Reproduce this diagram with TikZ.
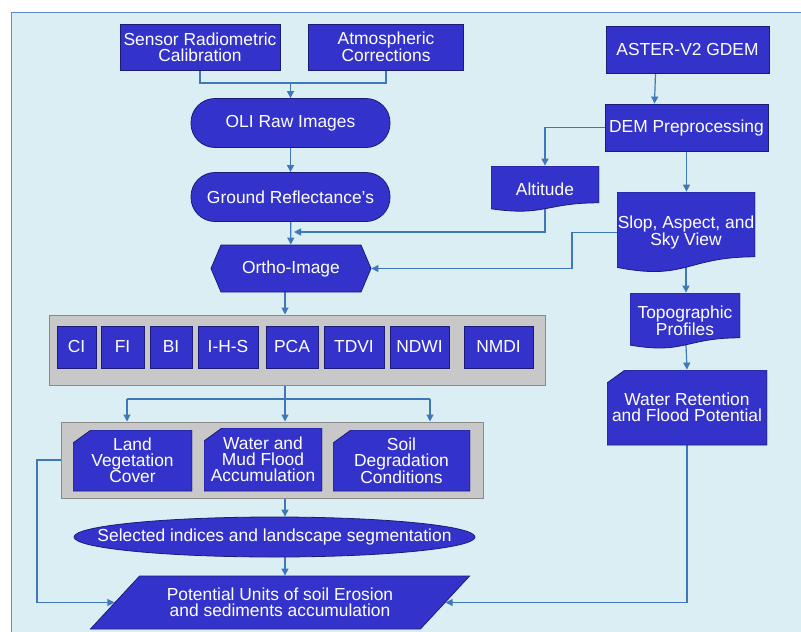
\documentclass[tikz,border=0pt]{standalone}
\usepackage{fontspec}
\setmainfont{Liberation Sans}
\usetikzlibrary{arrows.meta,calc,shapes.geometric,shapes.symbols}
\definecolor{panelblue}{HTML}{DAEEF3}
\definecolor{panelline}{HTML}{5B8BC6}
\definecolor{boxblue}{HTML}{3333CC}
\definecolor{boxline}{HTML}{1C1C78}
\definecolor{linkblue}{HTML}{3F78B8}
\definecolor{traygray}{HTML}{C8C8C8}
\definecolor{trayline}{HTML}{8A8A8A}
\pgfdeclarelayer{bg}
\pgfdeclarelayer{lines}
\pgfsetlayers{bg,lines,main}
\begin{document}
\begin{tikzpicture}[x=1pt,y=-1pt,
		font=\fontsize{17.4}{16}\selectfont,
		box/.style={rectangle,fill=boxblue,draw=boxline,line width=0.8pt,text=white,align=center,inner sep=0pt},
		pill/.style={box,rounded corners=24pt},
		card/.style={box,fill=none,draw=none,path picture={
			\filldraw[fill=boxblue,draw=boxline,line width=0.8pt] ([xshift=18pt]path picture bounding box.north west) -- (path picture bounding box.north east) -- (path picture bounding box.south east) -- (path picture bounding box.south west) -- ([yshift=-13pt]path picture bounding box.north west) -- cycle;}},
		hexa/.style={box,signal,signal to=west and east,signal pointer angle=134},
		oval/.style={box,ellipse},
		slant/.style={box,trapezium,trapezium left angle=36,trapezium right angle=144,trapezium stretches=true},
		doc/.style={box,fill=none,draw=none,path picture={
			\filldraw[fill=boxblue,draw=boxline,line width=0.8pt] (path picture bounding box.north west) -- (path picture bounding box.north east) -- ($(path picture bounding box.north east)!0.80!(path picture bounding box.south east)$) .. controls ($(path picture bounding box.north)!0.80!(path picture bounding box.south)$) and ($(path picture bounding box.north)!1.10!(path picture bounding box.south)$) .. ($(path picture bounding box.north west)!0.93!(path picture bounding box.south west)$) -- cycle;}},
		tray/.style={rectangle,fill=traygray,draw=trayline,line width=1pt},
		link/.style={draw=linkblue,line width=1.2pt},
		arr/.style={link,-{Triangle[length=7pt,width=7pt]}},
	]
	\useasboundingbox (0,0) rectangle (801,632);
	\begin{pgfonlayer}{bg}
		\fill[white] (0,0) rectangle (801,632);
		\fill[panelblue] (11,12) rectangle (801,632);
		\draw[panelline,line width=1pt] (11,632) -- (11,12) -- (801,12);
	\end{pgfonlayer}
	\node[box,minimum width=160pt,minimum height=46pt] (sens) at (200,47){Sensor Radiometric\\Calibration};
	\node[box,minimum width=155pt,minimum height=46pt] (atm) at (386,47){Atmospheric\\Corrections};
	\node[pill,minimum width=199pt,minimum height=49pt] (oli) at (290.5,123){OLI Raw Images};
	\node[pill,minimum width=199pt,minimum height=49pt] (gr) at (290.5,197){Ground Reflectance's};
	\node[hexa,minimum width=160pt,minimum height=47pt] (ortho) at (291,268.5){Ortho-Image};
	\node[box,minimum width=163pt,minimum height=47pt] (aster) at (687.5,49.5){ASTER-V2 GDEM};
	\node[box,minimum width=163pt,minimum height=47pt] (dem) at (686.5,127.5){DEM Preprocessing};
	\node[doc,minimum width=108pt,minimum height=46pt] (alt) at (545,189){Altitude};
	\node[doc,minimum width=138pt,minimum height=81pt] (slop) at (686,232.5){Slop, Aspect, and\\Sky View};
	\node[doc,minimum width=110pt,minimum height=56pt] (topo) at (685,321){Topographic\\Profiles};
	\node[card,minimum width=160pt,minimum height=75pt] (wr) at (687,407.5){Water Retention\\and Flood Potential};
	\node[tray,minimum width=496pt,minimum height=70pt] (idx) at (297,350){};
	\foreach \t/\x/\w [count=\i] in {CI/76.5/39,FI/122.5/43,BI/171/42,I-H-S/228/60,PCA/292/52,TDVI/354/60,NDWI/419.5/59,NMDI/498.5/69}{
		\node[box,minimum width=\w pt,minimum height=42pt] (ix\i) at (\x,347){\t};
	}
	\node[tray,minimum width=422pt,minimum height=76pt] (cat) at (272,460){};
	\node[card,minimum width=119pt,minimum height=61pt] (land) at (132.5,460.5){Land\\Vegetation\\Cover};
	\node[card,minimum width=118pt,minimum height=63pt] (water) at (263,459.5){Water and\\Mud Flood\\Accumulation};
	\node[card,minimum width=137pt,minimum height=61pt] (soil) at (401.5,460.5){Soil\\Degradation\\Conditions};
	\node[oval,minimum width=401pt,minimum height=40pt] (sel) at (274.5,537){\makebox[0pt]{Selected indices and landscape segmentation}};
	\node[slant,minimum width=380pt,minimum height=53pt] (pot) at (280,602.5){Potential Units of soil Erosion\\and sediments accumulation};
	\begin{pgfonlayer}{lines}
		\coordinate (j1) at (290.5,83);
		\coordinate (j2) at (294,232);
		\coordinate (j3) at (572,232.5);
		\coordinate (mid) at (285,0);
		\coordinate (sp) at (285,399);
		\coordinate (sl) at (127,399);
		\coordinate (sr) at (430,399);
		\coordinate (c1) at (37,460);
		\draw[link] (sens.south) |- (j1) -| (atm.south);
		\draw[arr] (j1) -- (oli.north);
		\draw[arr] (oli) -- (gr);
		\draw[arr] (gr) -- (ortho);
		\draw[arr] ([xshift=-32pt]aster.south) -- ([xshift=-32pt]dem.north);
		\draw[arr] (dem.west) -| (alt.north);
		\draw[arr] (dem.south) -- (dem.south |- slop.north);
		\draw[arr] (alt.center) |- (j2);
		\draw[arr] (slop.west) -- (j3) |- (ortho.east);
		\draw[arr] (slop.center) -- (slop.center |- topo.north);
		\draw[arr] (topo.center) -- (wr.north);
		\draw[arr] (mid |- ortho.south) -- (mid |- idx.north);
		\draw[link] (mid |- idx.south) -- (sp);
		\draw[link] (sl) -- (sr);
		\draw[arr] (sp) -- (mid |- cat.north);
		\draw[arr] (sl) -- (sl |- cat.north);
		\draw[arr] (sr) -- (sr |- cat.north);
		\draw[arr] (mid |- cat.south) -- (mid |- sel.north);
		\draw[arr] (mid |- sel.south) -- (mid |- pot.north);
		\draw[arr] (cat.west) -- (c1) |- (pot.west);
		\draw[arr] (wr.south) |- (pot.east);
	\end{pgfonlayer}
\end{tikzpicture}
\end{document}
